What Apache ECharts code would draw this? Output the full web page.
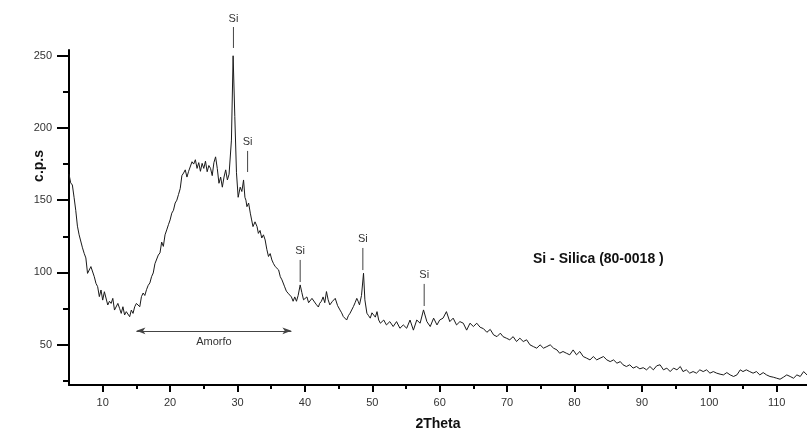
<!DOCTYPE html>
<html>
<head>
<meta charset="utf-8">
<script src="https://cdn.jsdelivr.net/npm/echarts@6/dist/echarts.min.js"></script>
<style>
  html, body { margin: 0; padding: 0; background: #fff; }
  #xrdChart { width: 807px; height: 437px; }
</style>
</head>
<body>
<div id="xrdChart"></div>
<script>
// diffraction trace
var twoTheta = [
  5.0, 5.25, 5.5, 5.75, 6.0, 6.25, 6.5, 6.75, 7.0, 7.25, 7.5, 7.75, 8.0, 8.25, 8.5, 8.75, 9.0, 9.25, 9.5, 9.75,
  10.0, 10.25, 10.5, 10.75, 11.0, 11.25, 11.5, 11.75, 12.0, 12.25, 12.5, 12.75, 13.0, 13.25, 13.5, 13.75, 14.0,
  14.25, 14.5, 14.75, 15.0, 15.25, 15.5, 15.75, 16.0, 16.25, 16.5, 16.75, 17.0, 17.25, 17.5, 17.75, 18.0, 18.25,
  18.5, 18.75, 19.0, 19.25, 19.5, 19.75, 20.0, 20.25, 20.5, 20.75, 21.0, 21.25, 21.5, 21.75, 22.0, 22.25, 22.5,
  22.75, 23.0, 23.25, 23.5, 23.75, 24.0, 24.25, 24.5, 24.75, 25.0, 25.25, 25.5, 25.75, 26.0, 26.25, 26.5, 26.75,
  27.0, 27.25, 27.5, 27.75, 28.0, 28.25, 28.5, 28.75, 29.1, 29.35, 29.6, 29.85, 30.1, 30.4, 30.65, 30.9, 31.1,
  31.25, 31.4, 31.65, 31.9, 32.1, 32.3, 32.6, 32.9, 33.1, 33.35, 33.6, 33.85, 34.1, 34.35, 34.6, 34.85, 35.1,
  35.35, 35.6, 35.85, 36.1, 36.35, 36.6, 36.8, 37.0, 37.25, 37.5, 37.75, 38.0, 38.25, 38.5, 38.75, 39.0, 39.3,
  39.55, 39.8, 40.05, 40.3, 40.55, 40.8, 41.05, 41.3, 41.65, 42.0, 42.2, 42.45, 42.7, 42.95, 43.2, 43.45, 43.7,
  44.1, 44.5, 44.85, 45.2, 45.45, 45.7, 45.95, 46.2, 46.45, 46.7, 46.95, 47.2, 47.45, 47.7, 47.9, 48.1, 48.4,
  48.7, 48.9, 49.2, 49.45, 49.7, 49.95, 50.2, 50.45, 50.7, 50.95, 51.2, 51.7, 52.1, 52.6, 53.1, 53.6, 54.1,
  54.6, 55.1, 55.6, 56.1, 56.6, 57.1, 57.6, 58.1, 58.6, 59.1, 59.6, 60.0, 60.5, 61.0, 61.5, 62.0, 62.5, 63.0,
  63.5, 64.0, 64.5, 65.0, 65.5, 66.0, 66.5, 67.0, 67.5, 68.0, 68.5, 69.0, 69.4, 69.9, 70.4, 70.9, 71.4, 71.9,
  72.4, 72.9, 73.4, 73.9, 74.4, 74.9, 75.4, 75.9, 76.4, 76.9, 77.4, 77.8, 78.3, 78.8, 79.3, 79.8, 80.3, 80.8,
  81.3, 81.8, 82.3, 82.8, 83.3, 83.8, 84.3, 84.8, 85.3, 85.8, 86.3, 86.8, 87.2, 87.7, 88.2, 88.7, 89.2, 89.7,
  90.2, 90.7, 91.2, 91.7, 92.2, 92.7, 93.2, 93.7, 94.2, 94.7, 95.2, 95.7, 96.1, 96.6, 97.1, 97.6, 98.1, 98.6,
  99.1, 99.6, 100.1, 100.6, 101.1, 101.6, 102.1, 102.6, 103.1, 103.6, 104.1, 104.6, 105.0, 105.5, 106.0, 106.5,
  107.0, 107.5, 108.0, 108.5, 109.0, 109.5, 110.0, 110.5, 111.0, 111.5, 112.0, 112.5, 113.0, 113.5, 114.0, 114.5
];
var cps = [
  168, 162, 160.5, 152, 143, 132, 126, 124.7, 117, 113.2, 110, 99.3, 98.2, 104, 104, 97, 92.4, 90.1, 83.2, 87.8,
  80.8, 86.6, 85.5, 77.4, 80, 78.5, 82, 73.9, 72.8, 78.5, 75.1, 71.6, 76.2, 70.5, 72.8, 71.6, 69.3,
  73.9, 71.6, 76.2, 78.5, 77.4, 76.2, 83.2, 85.7, 84, 88, 91, 92.7, 97, 99.6, 106, 105, 112,
  113.5, 121, 118, 126, 129.4, 133, 136.3, 141, 143, 148, 150, 154, 158, 167, 168.8, 171, 166,
  170, 168.8, 176.6, 175, 178, 172, 176, 170, 175.5, 172, 177, 169.7, 174, 172, 167, 176, 180,
  172, 161.7, 166, 159, 166, 171, 164, 168, 191.6, 250, 208, 169, 152, 159, 156, 164, 152,
  150, 145.5, 148, 141, 136.3, 131.7, 135, 131.7, 127, 129, 123.8, 126, 122.5, 116, 111, 113, 108.6,
  106, 104, 105, 101.7, 97, 94.8, 96, 90, 87, 85.6, 86, 83, 80, 83, 80, 84, 91.3,
  86, 81, 80, 83, 79, 79, 82, 83, 78, 76, 78.6, 80, 83, 79, 86.7, 81, 77.5,
  80, 82, 77, 74, 72, 69.4, 70, 67, 70, 71.7, 73, 76.3, 79, 82, 80, 77.5, 84,
  99.4, 81, 71.7, 70, 68.3, 72, 70.5, 69, 72.8, 67, 64.8, 67, 63.6, 65.9, 62.5, 65.9, 61.3,
  63.6, 61.3, 67, 60, 67, 64.8, 74, 65.9, 62.5, 68.3, 63.6, 67, 68.3, 72.8, 65.9, 68.3, 63.6, 65.9,
  64.8, 60, 64.8, 62.5, 64.8, 62, 61, 58.5, 60.5, 56.7, 55.5, 57.9, 55.5, 54.4, 53.3, 55.5, 52.1, 54.4,
  52.1, 53.3, 49.8, 48.6, 47.5, 49.8, 47.5, 48.6, 49.8, 47.5, 46.3, 44, 45.2, 44, 42.9, 46.3, 42.9, 45.2,
  41.7, 40.6, 39.4, 41.7, 39.4, 40.6, 41.7, 39.4, 38.2, 39.4, 37.1, 38.2, 36, 34.8, 36, 33.7, 34.8, 33.2,
  34, 32.5, 34.8, 32.5, 35.3, 36, 32.5, 33.7, 31.3, 33.7, 32.5, 34.8, 31.3, 32.5, 30.2, 31.3, 30.2, 32.5,
  31.3, 32.5, 30.2, 31.3, 30.2, 29.5, 29, 30.6, 29, 27.9, 29, 32.5, 31.3, 32.5, 31.3, 30.2,
  31.3, 29, 30.6, 29, 27.9, 27.4, 26.7, 26, 27.4, 29, 27.9, 26.7, 29, 27.9, 31.3, 29
];

// "Si" reflections: position, bottom and top of the marker stroke
var siPos = [29.4, 31.5, 39.3, 48.6, 57.7];
var siLow = [255.4, 169.5, 93.3, 101.6, 76.7];
var siHigh = [269.9, 184.1, 108.6, 116.9, 92];

// amorphous hump span
var amorfoFrom = 15.0;
var amorfoTo = 38.0;
var amorfoLevel = 59.5;

var xMajor = [10, 20, 30, 40, 50, 60, 70, 80, 90, 100, 110];
var xMinor = [15, 25, 35, 45, 55, 65, 75, 85, 95, 105];
var yMajor = [50, 100, 150, 200, 250];
var yMinor = [25, 75, 125, 175, 225];

var trace = [];
for (var i = 0; i < twoTheta.length; i++) {
    trace.push([twoTheta[i], cps[i]]);
}
var siData = [];
for (var j = 0; j < siPos.length; j++) {
    siData.push([siPos[j], siLow[j], siHigh[j]]);
}

var labelFont = 'Liberation Sans, Arial, sans-serif';

var dom = document.getElementById('xrdChart');
var myChart = echarts.init(dom, null, { renderer: 'canvas' });

var option = {
    animation: false,
    backgroundColor: '#fff',
    grid: {
        left: 69,
        right: 0,
        top: 50,
        bottom: 52,
        outerBoundsMode: 'none'
    },
    graphic: [
        {
            type: 'text',
            left: 533,
            top: 252,
            style: {
                text: 'Si - Silica (80-0018 )',
                font: 'bold 14px ' + labelFont,
                fill: '#111'
            }
        },
        {
            type: 'text',
            left: 32,
            top: 150,
            rotation: Math.PI / 2,
            style: {
                text: 'c.p.s',
                font: 'bold 14px ' + labelFont,
                fill: '#111'
            }
        }
    ],
    xAxis: [
        {
            type: 'value',
            min: 5,
            max: 114.5,
            name: '2Theta',
            nameLocation: 'middle',
            nameGap: 32,
            nameTextStyle: { fontFamily: labelFont, fontSize: 14, fontWeight: 'bold', color: '#111' },
            axisLine: { show: true, onZero: false, lineStyle: { color: '#000', width: 2 } },
            axisTick: { show: true, length: 7, lineStyle: { color: '#000', width: 2 }, customValues: xMajor },
            axisLabel: { customValues: xMajor, margin: 12, fontFamily: labelFont, fontSize: 11, color: '#333' },
            splitLine: { show: false }
        },
        {
            type: 'value',
            min: 5,
            max: 114.5,
            position: 'bottom',
            axisLine: { show: false },
            axisTick: { show: true, length: 4, lineStyle: { color: '#000', width: 2 }, customValues: xMinor },
            axisLabel: { show: false },
            splitLine: { show: false }
        }
    ],
    yAxis: [
        {
            type: 'value',
            min: 22,
            max: 254,
            position: 'left',
            axisLine: { show: true, onZero: false, lineStyle: { color: '#000', width: 2 } },
            axisTick: { show: true, length: 12, lineStyle: { color: '#000', width: 2 }, customValues: yMajor },
            axisLabel: { customValues: yMajor, margin: 17, fontFamily: labelFont, fontSize: 11, color: '#333' },
            splitLine: { show: false }
        },
        {
            type: 'value',
            min: 22,
            max: 254,
            position: 'left',
            axisLine: { show: false },
            axisTick: { show: true, length: 6, lineStyle: { color: '#000', width: 2 }, customValues: yMinor },
            axisLabel: { show: false },
            splitLine: { show: false }
        }
    ],
    series: [
        {
            name: 'cps',
            type: 'line',
            data: trace,
            showSymbol: false,
            symbol: 'none',
            silent: true,
            lineStyle: { color: '#1a1a1a', width: 1 },
            markLine: {
                silent: true,
                symbol: ['arrow', 'arrow'],
                symbolSize: [5, 9],
                lineStyle: { color: '#444', width: 1, type: 'solid' },
                label: {
                    show: true,
                    position: 'insideMiddleBottom',
                    formatter: 'Amorfo',
                    distance: 6,
                    fontFamily: labelFont,
                    fontSize: 11,
                    color: '#333'
                },
                data: [
                    [{ coord: [amorfoFrom, amorfoLevel] }, { coord: [amorfoTo, amorfoLevel] }]
                ]
            }
        },
        {
            name: 'Si',
            type: 'custom',
            clip: false,
            silent: true,
            data: siData,
            renderItem: function (params, api) {
                var bottom = api.coord([api.value(0), api.value(1)]);
                var top = api.coord([api.value(0), api.value(2)]);
                return {
                    type: 'group',
                    children: [
                        {
                            type: 'line',
                            shape: { x1: bottom[0], y1: bottom[1], x2: top[0], y2: top[1] },
                            style: { stroke: '#444', lineWidth: 1 }
                        },
                        {
                            type: 'text',
                            x: top[0],
                            y: top[1] - 3,
                            style: {
                                text: 'Si',
                                textAlign: 'center',
                                textVerticalAlign: 'bottom',
                                font: '11px ' + labelFont,
                                fill: '#333'
                            }
                        }
                    ]
                };
            }
        }
    ]
};

if (option && typeof option === 'object') {
    myChart.setOption(option);
    window.addEventListener('resize', function () {
        myChart.resize();
    });
}
</script>
</body>
</html>
